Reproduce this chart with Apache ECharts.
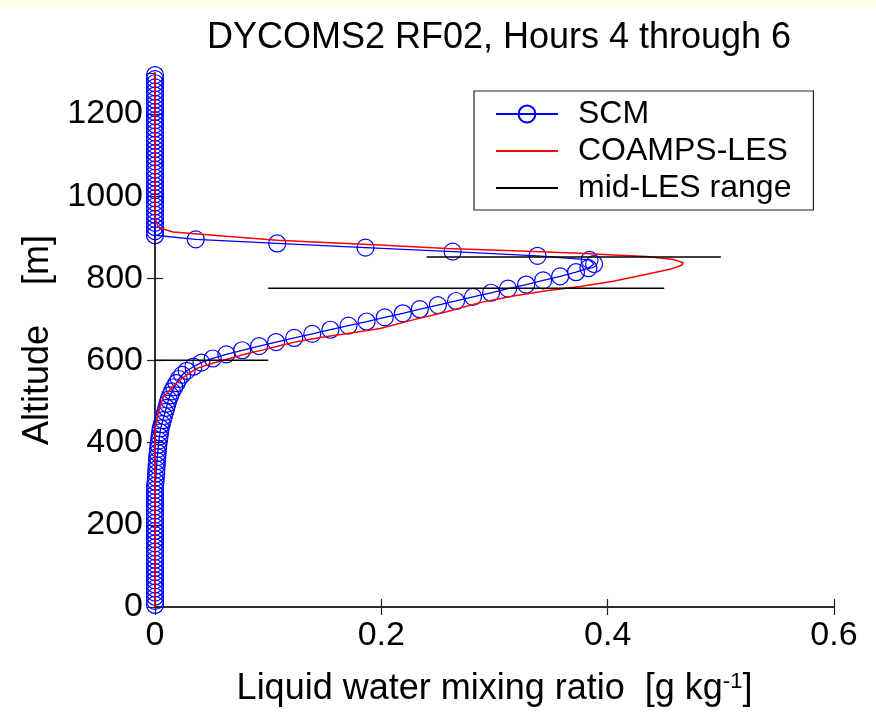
<!DOCTYPE html>
<html>
<head>
<meta charset="utf-8">
<script src="https://cdn.jsdelivr.net/npm/echarts@6/dist/echarts.min.js"></script>
<style>
html,body{margin:0;padding:0;background:#fff;}
#chart{width:876px;height:726px;}
</style>
</head>
<body>
<div id="chart"></div>
<script>
// SCM model levels (m) and liquid water mixing ratio (g/kg)
var scmAlt = [5,15,25,35,45,55,65,75,85,95,105,115,125,135,145,155,165,175,185,195,
  205,215,225,235,245,255,265,275,285,295,305,315,325,335,345,355,365,375,385,395,
  405,415,425,435,445,455,465,475,485,495,505,515,525,535,545,555,565,575,585,595,
  605,615,625,635,645,655,665,675,685,695,705,715,725,735,745,755,765,775,785,795,
  805,815,825,835,845,855,865,875,885,895,905,915,925,935,945,955,965,975,985,995,
  1005,1015,1025,1035,1045,1055,1065,1075,1085,1095,1105,1115,1125,1135,1145,1155,1165,1175,1185,1195,
  1205,1215,1225,1235,1245,1255,1265,1275,1285,1295];
var scmQ = [0,0,0,0,0,0,0,0,0,0,0,0,0,0,0,0,0,0,0,0,
  0,0,0,0,0,0,0,0,0,0,0.0005,0.0008,0.001,0.0012,0.0015,0.0018,0.002,0.0024,0.0027,0.003,
  0.0035,0.004,0.0045,0.005,0.006,0.007,0.008,0.009,0.010,0.011,0.012,0.0135,0.015,0.017,0.019,0.021,0.024,0.028,0.034,0.041,
  0.051,0.063,0.077,0.092,0.107,0.123,0.139,0.155,0.171,0.187,0.203,0.219,0.234,0.250,0.266,0.281,0.297,0.312,0.328,0.343,
  0.358,0.372,0.383,0.388,0.384,0.338,0.263,0.186,0.108,0.036,0,0,0,0,0,0,0,0,0,0,
  0,0,0,0,0,0,0,0,0,0,0,0,0,0,0,0,0,0,0,0,
  0,0,0,0,0,0,0,0,0,0];

// COAMPS-LES profile (path order)
var lesAlt = [0,100,200,300,400,420,440,455,470,487,500,512,528,540,553,567,581,593,605,616,
  626,636,646,656,666,678,699,719,741,757,770,780,793,810,822,832,838,846,853,857,
  861,867,873,881,883,893,903,913,920,926,934,950,1100,1300];
var lesQ = [0,0,0,0,0,0,0.0005,0.0015,0.0028,0.0044,0.006,0.0074,0.0133,0.017,0.022,0.029,0.037,0.05,0.066,0.080,
  0.0957,0.110,0.125,0.146,0.170,0.199,0.228,0.2577,0.287,0.3166,0.346,0.3755,0.405,0.4345,0.455,0.4653,0.4668,0.458,0.4345,0.405,
  0.3755,0.3166,0.2577,0.1988,0.184,0.108,0.06,0.016,0.007,0.003,0.0015,0,0,0];

// mid-LES range bars
var midAlt = [852, 776, 601];
var midLo = [0.24, 0.10, 0.0];
var midHi = [0.50, 0.45, 0.10];

var seriesNames = ['SCM', 'COAMPS-LES', 'mid-LES range'];
var titleText = 'DYCOMS2 RF02, Hours 4 through 6';

var FONT = 'Liberation Sans, Arial, sans-serif';

function pairs(xs, ys) {
  var out = [];
  for (var i = 0; i < xs.length; i++) out.push([xs[i], ys[i]]);
  return out;
}

var series = [
  {
    name: seriesNames[0], type: 'line',
    data: pairs(scmQ, scmAlt),
    symbol: 'circle', symbolSize: 17, showSymbol: true,
    lineStyle: {color: '#0000ff', width: 1.3},
    itemStyle: {color: 'rgba(255,255,255,0)', borderColor: '#0000ff', borderWidth: 1.2},
    emphasis: {disabled: true}, z: 2
  },
  {
    name: seriesNames[1], type: 'line',
    data: pairs(lesQ, lesAlt),
    symbol: 'none', smooth: false,
    lineStyle: {color: '#ff0000', width: 1.5},
    itemStyle: {color: '#ff0000'},
    emphasis: {disabled: true}, z: 3
  }
];
for (var k = 0; k < midAlt.length; k++) {
  series.push({
    name: seriesNames[2], type: 'line',
    data: [[midLo[k], midAlt[k]], [midHi[k], midAlt[k]]],
    symbol: 'none',
    lineStyle: {color: '#000000', width: 1.5},
    itemStyle: {color: '#000000'},
    emphasis: {disabled: true}, z: 4
  });
}

var axisLineStyle = {show: true, lineStyle: {color: '#222', width: 1.5}};
var tickStyle = {show: true, inside: true, length: 8, lineStyle: {color: '#222', width: 1.2}};
var noSymbol = {color: 'rgba(0,0,0,0)', borderWidth: 0, opacity: 0};

var chart = echarts.init(document.getElementById('chart'), null, {renderer: 'canvas'});
chart.setOption({
  animation: false,
  backgroundColor: '#ffffff',
  title: {
    text: titleText, left: 494, top: 15, textAlign: 'center',
    textStyle: {fontFamily: FONT, fontSize: 36, fontWeight: 'normal', color: '#000'}
  },
  graphic: [{type: 'rect', left: 0, top: 0, shape: {width: 876, height: 7}, style: {fill: '#fdfde6'}, z: -10}],
  legend: {
    data: [
      {name: seriesNames[0]},
      {name: seriesNames[1], itemStyle: noSymbol},
      {name: seriesNames[2], itemStyle: noSymbol}
    ],
    orient: 'vertical', left: 474, top: 91,
    itemWidth: 62, itemHeight: 21, itemGap: 5,
    padding: [7, 22, 6, 21],
    borderColor: '#222', borderWidth: 1.2, backgroundColor: '#fff',
    textStyle: {fontFamily: FONT, fontSize: 32, color: '#000', padding: [0, 0, 0, 15]},
    selectedMode: false
  },
  grid: {left: 155, right: 42, top: 73, bottom: 119, containLabel: false},
  xAxis: [
    {
      type: 'value', min: 0, max: 0.6, interval: 0.2, position: 'bottom',
      name: 'Liquid water mixing ratio  [g kg{sup|-1}]', nameLocation: 'middle', nameGap: 64,
      nameTextStyle: {fontFamily: FONT, fontSize: 36, color: '#000',
        rich: {sup: {fontFamily: FONT, fontSize: 22, verticalAlign: 'top', color: '#000'}}},
      axisLine: axisLineStyle, axisTick: tickStyle, splitLine: {show: false},
      axisLabel: {fontFamily: FONT, fontSize: 34, color: '#000', margin: 12,
        formatter: function (v) { return String(v); }}
    },
    {
      type: 'value', min: 0, max: 0.6, interval: 0.2, position: 'top',
      axisLine: axisLineStyle, axisTick: tickStyle, splitLine: {show: false},
      axisLabel: {show: false}
    }
  ],
  yAxis: [
    {
      type: 'value', min: 0, max: 1300, interval: 200, position: 'left',
      name: 'Altitude    [m]', nameLocation: 'middle', nameGap: 93,
      nameTextStyle: {fontFamily: FONT, fontSize: 36, color: '#000'},
      axisLine: axisLineStyle, axisTick: tickStyle, splitLine: {show: false},
      axisLabel: {fontFamily: FONT, fontSize: 34, color: '#000', margin: 12, showMaxLabel: false,
        formatter: function (v) { return String(v); }}
    },
    {
      type: 'value', min: 0, max: 1300, interval: 200, position: 'right',
      axisLine: axisLineStyle, axisTick: tickStyle, splitLine: {show: false},
      axisLabel: {show: false}
    }
  ],
  series: series
});
</script>
</body>
</html>
